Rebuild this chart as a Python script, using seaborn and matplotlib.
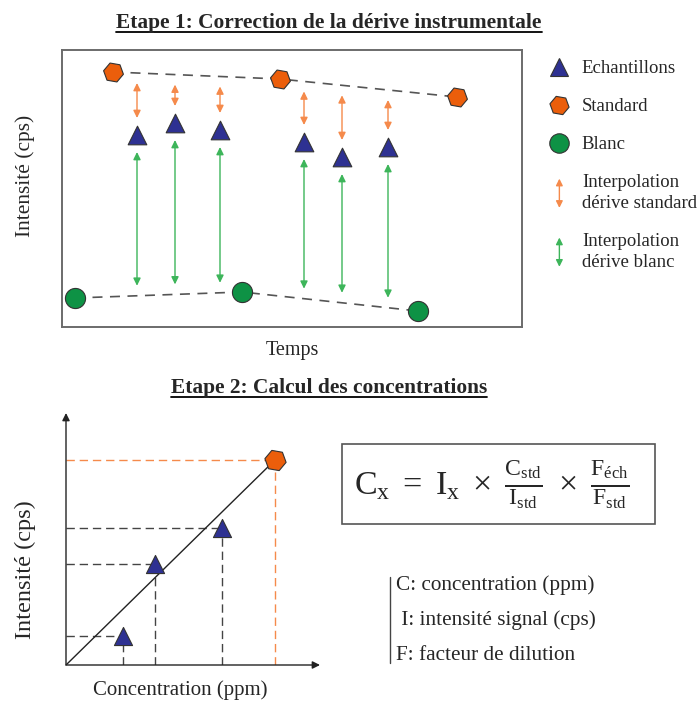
"""
Schema: correction de la derive instrumentale et calcul des concentrations.
"""
import numpy as np
import matplotlib.pyplot as plt
import seaborn as sns
from matplotlib.lines import Line2D
from matplotlib.patches import FancyArrowPatch, Rectangle
from matplotlib.legend_handler import HandlerBase

sns.set_style('white')
plt.rcParams['font.family'] = ['Liberation Serif', 'DejaVu Serif']
plt.rcParams['mathtext.fontset'] = 'custom'
plt.rcParams['mathtext.rm'] = 'Liberation Serif'
plt.rcParams['mathtext.it'] = 'Liberation Serif:italic'
plt.rcParams['mathtext.bf'] = 'Liberation Serif:bold'

# --- data (arbitrary units) ---
# Etape 1
std_time = [51, 218, 395]
std_int = [255, 248, 230]
blanc_time = [13, 180, 356]
blanc_int = [29, 35, 16]
ech_time = [75, 113, 158, 242, 280, 326]
ech_int = [192, 204, 197, 185, 170, 180]
# Etape 2
cal_conc_std = 209
cal_int_std = 205
cal_conc = [57, 89, 156]
cal_int = [29, 101, 137]

legend_labels = ['Echantillons', 'Standard', 'Blanc',
                 'Interpolation\ndérive standard', 'Interpolation\ndérive blanc']
info_lines = ['C: concentration (ppm)', ' I: intensité signal (cps)',
              'F: facteur de dilution']

NAVY = '#2E3192'
ORANGE = '#EB5E0B'
GREEN = '#0E9245'
ORANGE_L = '#F58A4B'
GREEN_L = '#3DB55A'
EDGE = '#333333'
HEX = (6, 0, 20)

W, H = 698, 702


def fx(x):
    return x / W


def fy(y):
    return 1 - y / H


class DoubleArrow:
    def __init__(self, color):
        self.color = color


class HandlerDoubleArrow(HandlerBase):
    def create_artists(self, legend, orig_handle, xdescent, ydescent,
                       width, height, fontsize, trans):
        xc = 0.5 * width - xdescent
        yc = 0.5 * height - ydescent
        h = 0.78 * fontsize
        p = FancyArrowPatch((xc, yc - h), (xc, yc + h),
                            arrowstyle='<|-|>,head_length=0.5,head_width=0.25',
                            mutation_scale=8, color=orig_handle.color, lw=1,
                            shrinkA=0, shrinkB=0, transform=trans)
        return [p]


arrow_style = '<|-|>,head_length=0.55,head_width=0.27'

fig = plt.figure(figsize=(W / 100, H / 100), dpi=100)

# ---------------- Etape 1 ----------------
ax = fig.add_axes([fx(62), fy(327), 460 / W, 277 / H])
ax.set(xlim=(0, 460), ylim=(0, 277), xticks=[], yticks=[])
for sp in ax.spines.values():
    sp.set_color('#6b6b6b')
    sp.set_linewidth(1.4)

sns.lineplot(x=std_time, y=std_int, ax=ax, color='#555555', lw=1.2,
             linestyle=(0, (6, 4.5)), zorder=1)
sns.lineplot(x=blanc_time, y=blanc_int, ax=ax, color='#555555', lw=1.2,
             linestyle=(0, (6, 4.5)), zorder=1)

std_at = np.interp(ech_time, std_time, std_int)
bl_at = np.interp(ech_time, blanc_time, blanc_int)
gap, off = 10, 17
for t, y, s, b in zip(ech_time, ech_int, std_at, bl_at):
    ax.annotate('', xy=(t, s - gap), xytext=(t, y + off),
                arrowprops=dict(arrowstyle=arrow_style, color=ORANGE_L, lw=1,
                                shrinkA=0, shrinkB=0, mutation_scale=8))
    ax.annotate('', xy=(t, b + gap), xytext=(t, y - off),
                arrowprops=dict(arrowstyle=arrow_style, color=GREEN_L, lw=1,
                                shrinkA=0, shrinkB=0, mutation_scale=8))

sns.scatterplot(x=ech_time, y=ech_int, ax=ax, marker='^', s=180, color=NAVY,
                edgecolor=EDGE, linewidth=0.8, zorder=3, clip_on=False)
sns.scatterplot(x=std_time, y=std_int, ax=ax, marker=HEX, s=210, color=ORANGE,
                edgecolor=EDGE, linewidth=0.8, zorder=3, clip_on=False)
sns.scatterplot(x=blanc_time, y=blanc_int, ax=ax, marker='o', s=210, color=GREEN,
                edgecolor=EDGE, linewidth=0.8, zorder=3, clip_on=False)

handles = [
    Line2D([], [], ls='none', marker='^', ms=13, mfc=NAVY, mec=EDGE, mew=0.8),
    Line2D([], [], ls='none', marker=HEX, ms=14, mfc=ORANGE, mec=EDGE, mew=0.8),
    Line2D([], [], ls='none', marker='o', ms=14, mfc=GREEN, mec=EDGE, mew=0.8),
    DoubleArrow(ORANGE_L),
    DoubleArrow(GREEN_L),
]
leg = fig.legend(handles=handles, labels=legend_labels,
                 handler_map={DoubleArrow: HandlerDoubleArrow()},
                 loc='upper left', bbox_to_anchor=(fx(550), fy(60)),
                 frameon=False, fontsize=13.5, handlelength=1.0,
                 handletextpad=0.7, labelspacing=1.12, borderpad=0,
                 borderaxespad=0)
for t in leg.get_texts():
    t.set_linespacing(1.3)

fig.text(fx(25), fy(176), 'Intensité (cps)', rotation=90, ha='center',
         va='center', fontsize=15.4)
fig.text(fx(292), fy(350), 'Temps', ha='center', va='center', fontsize=14.5)

# ---------------- Etape 2 ----------------
ax2 = fig.add_axes([fx(66), fy(665), 254 / W, 252 / H])
ax2.set(xlim=(0, 254), ylim=(0, 252))
ax2.axis('off')

for xy in [(254, 0), (0, 252)]:
    ax2.annotate('', xy=xy, xytext=(0, 0), annotation_clip=False,
                 arrowprops=dict(arrowstyle='-|>', color='#222222', lw=1,
                                 shrinkA=0, shrinkB=0, mutation_scale=11))

dash2 = (0, (6, 3.5))
ax2.hlines(cal_int, 0, cal_conc, color='#444444', lw=1, linestyles=[dash2])
ax2.vlines(cal_conc, 0, cal_int, color='#444444', lw=1, linestyles=[dash2])
ax2.hlines(cal_int_std, 0, cal_conc_std, color=ORANGE_L, lw=1, linestyles=[dash2])
ax2.vlines(cal_conc_std, 0, cal_int_std, color=ORANGE_L, lw=1, linestyles=[dash2])
sns.lineplot(x=[0, cal_conc_std], y=[0, cal_int_std], ax=ax2, color='#222222',
             lw=1, zorder=2)

sns.scatterplot(x=cal_conc, y=cal_int, ax=ax2, marker='^', s=170, color=NAVY,
                edgecolor=EDGE, linewidth=0.8, zorder=3, clip_on=False)
sns.scatterplot(x=[cal_conc_std], y=[cal_int_std], ax=ax2, marker=HEX, s=240,
                color=ORANGE, edgecolor=EDGE, linewidth=0.8, zorder=3,
                clip_on=False)

fig.text(fx(25), fy(570), 'Intensité (cps)', rotation=90, ha='center',
         va='center', fontsize=17.5)
fig.text(fx(180), fy(690), 'Concentration (ppm)', ha='center', va='center',
         fontsize=15)

# formula box
fig.add_artist(Rectangle((fx(342), fy(524)), 313 / W, 80 / H,
                         transform=fig.transFigure, fill=False,
                         ec='#555555', lw=1.2))
formula = (r'$\mathrm{C_x}\ =\ \mathrm{I_x}\ \times\ '
           r'\frac{\mathrm{C_{std}}}{\mathrm{I_{std}}}\ \times\ '
           r'\frac{\mathrm{F_{éch}}}{\mathrm{F_{std}}}$')
fig.text(fx(492), fy(485), formula, ha='center', va='center', fontsize=24.5)

for txt, y in zip(info_lines, [585, 620, 655]):
    fig.text(fx(396), fy(y), txt, ha='left', va='center', fontsize=15.3)
fig.add_artist(Line2D([fx(390), fx(390)], [fy(577), fy(663)],
                      transform=fig.transFigure, color='#444444', lw=1))

# titles, underlined
titles = []
for txt, y in [('Etape 1: Correction de la dérive instrumentale', 28),
               ('Etape 2: Calcul des concentrations', 393)]:
    titles.append(fig.text(fx(329), fy(y), txt, ha='center', va='baseline',
                           fontsize=15.4, fontweight='bold'))
fig.canvas.draw()
r = fig.canvas.get_renderer()
for t in titles:
    bb = t.get_window_extent(r).transformed(fig.transFigure.inverted())
    ybase = t.get_position()[1] - 3.5 / H
    fig.add_artist(Line2D([bb.x0, bb.x1], [ybase, ybase],
                          transform=fig.transFigure, color='black', lw=1.3))

fig.savefig('out.png', dpi=100)
